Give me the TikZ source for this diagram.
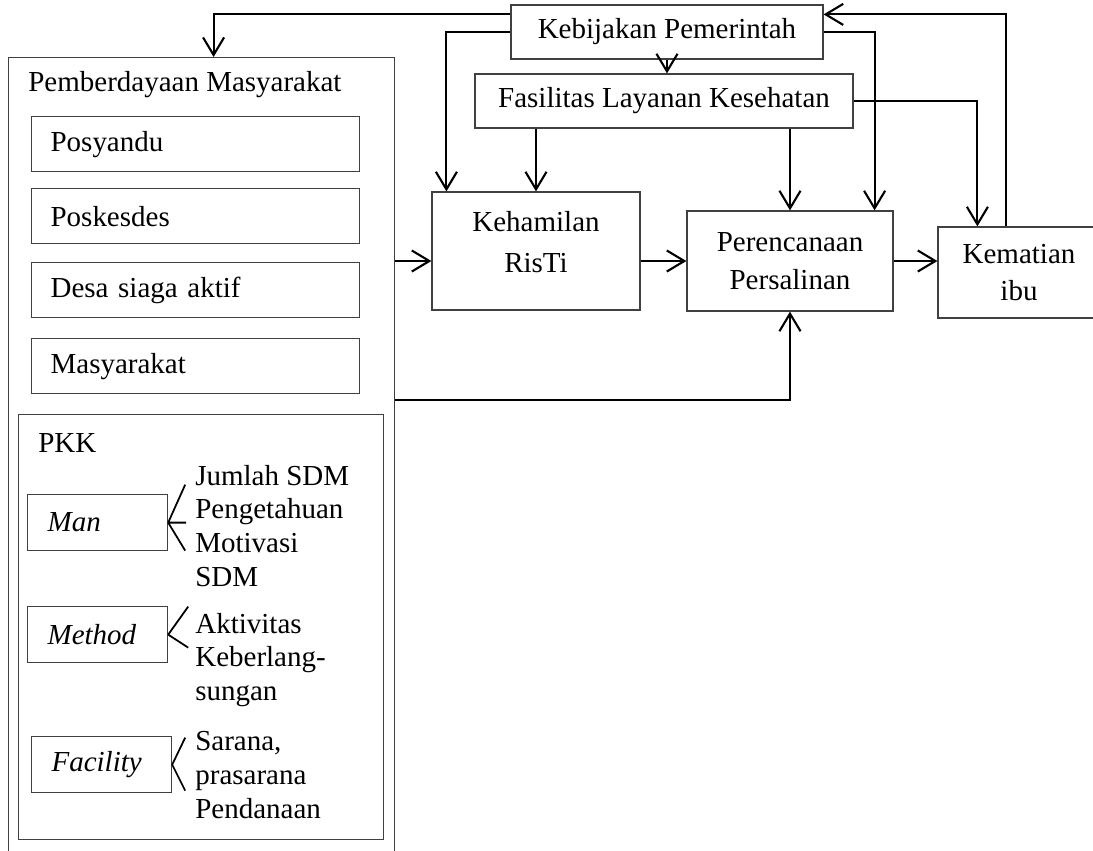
\documentclass[tikz,border=0pt]{standalone}
\usepackage{fontspec}
\setmainfont{Liberation Serif}
\usepackage{tikz}
\usetikzlibrary{positioning, arrows.meta, calc}

\tikzset{
    kotak/.style={draw=black!75, line width=0.7pt, inner sep=0pt, align=center},
    kotakkiri/.style={kotak, align=left, inner xsep=0.38cm, text width=5.8cm, minimum height=1.1cm},
    kotakm/.style={kotak, align=left, inner xsep=0.4cm, text width=2cm, minimum height=1.12cm},
    teks/.style={anchor=west, align=left, inner sep=0pt},
    panah/.style={-{Straight Barb[length=10pt,width=12pt]}, line width=1.2pt},
    garis/.style={line width=1pt}
}

\begin{document}
\begin{tikzpicture}[x=0.02cm, y=-0.02cm, font=\fontsize{16.5}{19.3}\selectfont]
    \useasboundingbox (0,0) rectangle (1093,850);

    % Box atas
    \node[kotak, minimum width=6.24cm, minimum height=1.08cm] (keb) at (667,32) {Kebijakan Pemerintah};
    \node[kotak, minimum width=7.56cm, minimum height=1.08cm] (fas) at (664,101) {Fasilitas Layanan Kesehatan};

    % Alur tengah
    \node[kotak, minimum width=4.16cm, minimum height=2.36cm] (ham) at (536,251) {Kehamilan\\[3.5pt]RisTi\\[-9pt]\mbox{}};
    \node[kotak, minimum width=4.12cm, minimum height=2cm] (ren) at (790,261) {Perencanaan\\[2pt]Persalinan};
    \node[kotak, minimum width=3.24cm, minimum height=1.82cm] (mat) at (1019,272.5) {Kematian\\[2pt]ibu};

    % Pemberdayaan Masyarakat
    \node[kotak, minimum width=7.72cm, minimum height=16.1cm, anchor=north west] (pm) at (8,57) {};
    \node[teks] (pmjudul) at (28,85) {Pemberdayaan Masyarakat};
    \node[kotakkiri, anchor=north west] (posy) at (31,116) {Posyandu};
    \node[kotakkiri, anchor=north west] (posk) at (31,188) {Poskesdes};
    \node[kotakkiri, anchor=north west] (desa) at (31,262) {Desa siaga aktif};
    \node[kotakkiri, anchor=north west] (masy) at (31,338) {Masyarakat};

    % PKK
    \node[kotak, minimum width=7.3cm, minimum height=8.5cm, anchor=north west] (pkk) at (18,414) {};
    \node[teks] (pkkjudul) at (38,443) {PKK};
    \node[kotakm, anchor=north west] (man) at (27,494) {\textit{Man}};
    \node[kotakm, anchor=north west] (met) at (27,606) {\textit{Method}};
    \node[kotakm, anchor=north west] (fac) at (31,736) {\textit{Facility}};
    \node[teks] (mantxt) at (195,526) {Jumlah SDM\\Pengetahuan\\Motivasi\\SDM};
    \node[teks] (mettxt) at (195,660) {Aktivitas\\Keberlang-\\sungan};
    \node[teks] (factxt) at (195,775) {Sarana,\\prasarana\\Pendanaan};

    \draw[garis] (man.east) -- ++(17,-38) (man.east) -- ++(18,0) (man.east) -- ++(17,28);
    \draw[garis] (met.east) -- ++(20,-28) (met.east) -- ++(20,13);
    \draw[garis] (fac.east) -- ++(13,-27) (fac.east) -- ++(13,26);

    % Panah
    \draw[panah] ($(keb.north west)+(0,10)$) -| ([xshift=0.24cm]pm.north);
    \draw[panah] (keb.west) -| ([xshift=0.3cm]ham.north west);
    \draw[panah] (keb.south) -- (keb.south |- fas.north);
    \draw[panah] (ham.north |- fas.south) -- (ham.north);
    \draw[panah] (ren.north |- fas.south) -- (ren.north);
    \draw[panah] (keb.east) -| ([xshift=-0.38cm]ren.north east);
    \draw[panah] (fas.east) -| ([xshift=0.8cm]mat.north west);
    \draw[panah] ([xshift=1.38cm]mat.north west) |- ($(keb.north east)+(0,10)$);
    \draw[panah] (pm.east |- ren.west) -- (ham.west |- ren.west);
    \draw[panah] (ham.east |- ren.west) -- (ren.west);
    \draw[panah] (ren.east) -- (ren.east -| mat.west);
    \draw[panah] ($(pm.east |- masy.south)+(0,6)$) -| (ren.south);
\end{tikzpicture}
\end{document}
